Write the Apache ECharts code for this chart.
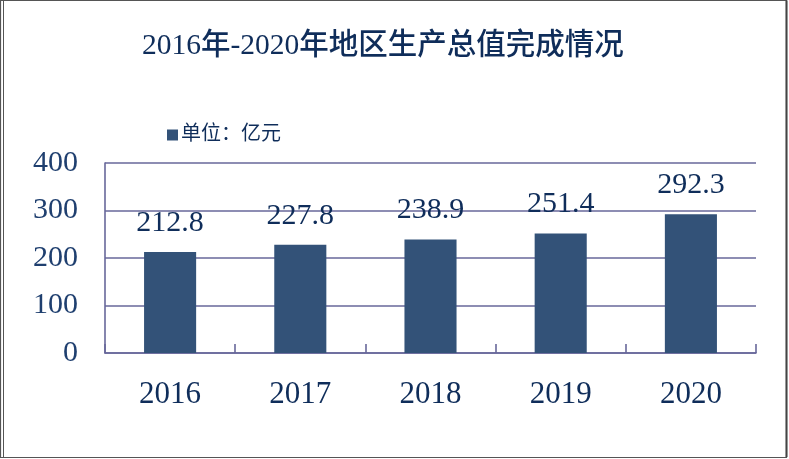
<!DOCTYPE html>
<html><head><meta charset="utf-8">
<script src="https://cdn.jsdelivr.net/npm/echarts@6/dist/echarts.min.js"></script>
<style>html,body{margin:0;padding:0;background:#fff}#c{width:789px;height:459px}</style>
</head><body><div id="c"></div>
<script>
const titleText = '2016年-2020年地区生产总值完成情况';
const seriesName = '单位：亿元';
const categories = ['2016', '2017', '2018', '2019', '2020'];
const values = [212.8, 227.8, 238.9, 251.4, 292.3];
const yTicks = [0, 100, 200, 300, 400];

const serif = '"Liberation Serif", "Noto Sans CJK SC", serif';
const chart = echarts.init(document.getElementById('c'));
chart.setOption({
  animation: false,
  backgroundColor: '#fff',
  title: {
    text: titleText, left: 137, top: 26,
    textStyle: { fontFamily: serif, fontSize: 29.5, fontWeight: 500, color: '#0F2D5A' }
  },
  legend: {
    left: 162, top: 120, itemWidth: 11, itemHeight: 11, itemGap: 5,
    icon: 'rect',
    textStyle: { fontFamily: serif, fontSize: 20, color: '#0F2D5A', padding: [0, 0, 0, -2] },
    data: [seriesName]
  },
  grid: { left: 105, right: 33, top: 163, bottom: 106, containLabel: false },
  xAxis: {
    type: 'category', data: categories,
    axisLine: { lineStyle: { color: '#67679A', width: 1.6 } },
    axisTick: { show: true, inside: true, length: 9, interval: 0, lineStyle: { color: '#67679A', width: 1.6 } },
    axisLabel: { margin: 26, fontFamily: serif, fontSize: 31, color: '#0F2D5A' }
  },
  yAxis: {
    type: 'value', min: yTicks[0], max: yTicks[yTicks.length - 1], interval: 100,
    axisLine: { show: true, lineStyle: { color: '#67679A', width: 1.6 } },
    axisTick: { show: false },
    splitLine: { lineStyle: { color: '#67679A', width: 1.6 } },
    axisLabel: { margin: 27, fontFamily: serif, fontSize: 30, color: '#1F3F6F' }
  },
  series: [{
    name: seriesName, type: 'bar', data: values, barWidth: '40%',
    itemStyle: { color: '#335278' },
    label: { show: true, position: 'top', distance: 14, fontFamily: serif, fontSize: 30, color: '#0F2D5A' }
  }],
  graphic: [
    { type: 'rect', shape: { x: 0.5, y: 0.5, width: 786, height: 457 }, style: { fill: null, stroke: '#555', lineWidth: 1.2 } },
    { type: 'line', shape: { x1: 3.5, y1: 0.5, x2: 3.5, y2: 457 }, style: { stroke: '#555', lineWidth: 1 } },
    { type: 'line', shape: { x1: 786.5, y1: 0.5, x2: 786.5, y2: 457 }, style: { stroke: '#444', lineWidth: 2 } }
  ]
});
</script></body></html>
